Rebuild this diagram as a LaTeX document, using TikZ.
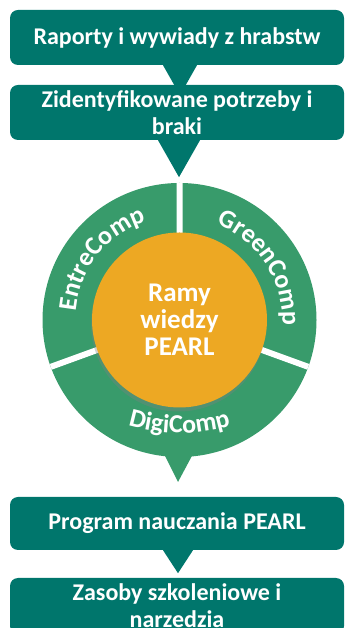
\documentclass[tikz,border=0pt]{standalone}
\usepackage{fontspec}
\setmainfont{Carlito}
\usetikzlibrary{positioning, shadows, decorations.text}
\definecolor{boxteal}{HTML}{00766C}
\definecolor{ringgreen}{HTML}{389B6B}
\definecolor{pearlorange}{HTML}{EDA823}
\tikzset{
    stage/.style={rectangle, rounded corners=8pt, fill=boxteal, text=white,
        minimum width=334pt, minimum height=55pt, inner sep=0pt, align=center,
        font=\bfseries\fontsize{24}{27}\selectfont},
    pointer/.style={fill=boxteal},
    ringlabel/.style={decorate, decoration={text along path, text align=center,
        text color=white, text={|\bfseries\fontsize{26}{26}\selectfont|#1}}},
}
\begin{document}
\begin{tikzpicture}[x=1pt, y=1pt]
    \useasboundingbox (0,0) rectangle (345,628);

    \node[stage] (raporty) at (177,590.5) {Raporty i wywiady z hrabstw};
    \node[stage] (potrzeby) at (177,515.5) {Zidentyfikowane potrzeby i\\braki};
    \fill[pointer] ([xshift=-14pt]raporty.south) -- ([xshift=20pt]raporty.south)
        -- ([xshift=3pt,yshift=-30pt]raporty.south) -- cycle;
    \fill[pointer] ([xshift=-19pt]potrzeby.south) -- ([xshift=23pt]potrzeby.south)
        -- ([xshift=2pt,yshift=-37pt]potrzeby.south) -- cycle;

    \node[circle, fill=ringgreen, minimum size=274pt, inner sep=0pt, outer sep=0pt] (ring) at (179.5,308) {};
    \fill[ringgreen] ([xshift=-16pt,yshift=4pt]ring.south) -- ([xshift=14pt,yshift=4pt]ring.south)
        -- ([xshift=-1.5pt,yshift=-25pt]ring.south) -- cycle;
    \draw[white, line width=6pt] (ring.center) -- (ring.90)
        (ring.center) -- (ring.200)
        (ring.center) -- (ring.340);
    \node[circle, fill=pearlorange, minimum size=175pt, inner sep=0pt, text=white, align=center,
        font=\bfseries\fontsize{27}{27}\selectfont,
        drop shadow={shadow xshift=-1pt, shadow yshift=-4pt, opacity=0.35}] (ramy) at (ring.center) {Ramy\\wiedzy\\PEARL};

    \path[ringlabel=EntreComp] (ring.center) ++(197:104) arc[start angle=197, end angle=87, radius=104];
    \path[ringlabel=GreenComp] (ring.center) ++(88:103) arc[start angle=88, end angle=-22, radius=103];
    \path[ringlabel=DigiComp] ([yshift=67pt]ring.center) ++(245:180)
        arc[start angle=245, end angle=295, radius=180];

    \node[stage, minimum height=53pt] (program) at (177,104.5) {Program nauczania PEARL};
    \node[stage, minimum height=56pt] (zasoby) at (177,22) {Zasoby szkoleniowe i\\narzedzia};
    \fill[pointer] ([xshift=-14pt]program.south) -- ([xshift=16pt]program.south)
        -- ([xshift=1pt,yshift=-23pt]program.south) -- cycle;
\end{tikzpicture}
\end{document}
